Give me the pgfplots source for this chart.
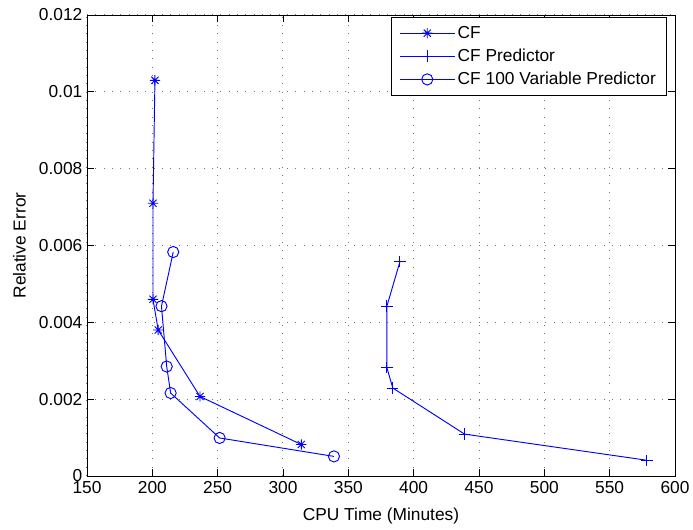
\documentclass[border=0pt]{standalone}
\usepackage{pgfplots}
\pgfplotsset{compat=1.18}
\usepackage{fontspec}
\setmainfont{Liberation Sans}
% MATLAB-style '*' marker: a + and an x on top of each other
\pgfdeclareplotmark{mstar}{%
  \pgfpathmoveto{\pgfqpoint{-\pgfplotmarksize}{0pt}}%
  \pgfpathlineto{\pgfqpoint{\pgfplotmarksize}{0pt}}%
  \pgfpathmoveto{\pgfqpoint{0pt}{-\pgfplotmarksize}}%
  \pgfpathlineto{\pgfqpoint{0pt}{\pgfplotmarksize}}%
  \pgfpathmoveto{\pgfqpoint{-0.707\pgfplotmarksize}{-0.707\pgfplotmarksize}}%
  \pgfpathlineto{\pgfqpoint{0.707\pgfplotmarksize}{0.707\pgfplotmarksize}}%
  \pgfpathmoveto{\pgfqpoint{-0.707\pgfplotmarksize}{0.707\pgfplotmarksize}}%
  \pgfpathlineto{\pgfqpoint{0.707\pgfplotmarksize}{-0.707\pgfplotmarksize}}%
  \pgfusepathqstroke}
\begin{document}
\begin{tikzpicture}
% fixed frame: 1px of the reference = 0.75pt
\path[use as bounding box] (-65.25pt,-39.75pt) rectangle (454.5pt,357pt);
\begin{axis}[
    at={(0,0)}, anchor=south west,
    width=441pt,
    height=345.75pt,
    scale only axis,
    xmin=150, xmax=600,
    ymin=0, ymax=0.012,
    xtick={150,200,...,600},
    ytick={0,0.002,...,0.012},
    scaled y ticks=false,
    yticklabel style={/pgf/number format/.cd, fixed, precision=3},
    /pgf/number format/assume math mode=true,
    tick align=inside,
    xtick pos=both, ytick pos=both,
    major tick length=5pt,
    grid=major,
    major grid style={black!55, line width=0.75pt, dash pattern=on 0.75pt off 5.5pt},
    axis line style={line width=0.7pt},
    tick style={line width=0.7pt, black},
    xlabel={CPU Time (Minutes)},
    ylabel={Relative Error},
    xticklabel style={yshift=-0.5pt},
    xlabel style={yshift=-4pt},
    ylabel style={yshift=3pt},
    tick label style={font=\fontsize{13}{15}\selectfont},
    label style={font=\fontsize{13}{15}\selectfont},
    legend style={at={(axis description cs:1,1)}, anchor=north east,
        xshift=-6pt, yshift=-1.5pt,
        font=\fontsize{13}{15}\selectfont,
        draw=black, line width=0.7pt, cells={anchor=west},
        row sep=2.5pt, inner xsep=6pt, inner ysep=4.5pt},
    legend image code/.code={%
        \draw[mark repeat=2, mark phase=2, #1]
            plot coordinates {(0cm,0cm) (0.72cm,0cm) (1.44cm,0cm)};},
    every axis plot/.append style={blue, line width=0.7pt},
]
\addplot[mark=mstar, mark size=3.8pt] coordinates {
    (202,0.0103) (200.5,0.0071) (200.5,0.0046) (204.5,0.0038) (236.5,0.00207) (314,0.00082)
};
\addlegendentry{CF}
\addplot[mark=+, mark size=4.3pt] coordinates {
    (389.5,0.00558) (379.5,0.00442) (379.5,0.00282) (384,0.00229) (439,0.00109) (578.5,0.00041)
};
\addlegendentry{CF Predictor}
\addplot[mark=o, mark size=4.2pt] coordinates {
    (216,0.00583) (207,0.00442) (211,0.00285) (214,0.00216) (251.5,0.00099) (339,0.00051)
};
\addlegendentry{CF 100 Variable Predictor}
\end{axis}
\end{tikzpicture}
\end{document}
